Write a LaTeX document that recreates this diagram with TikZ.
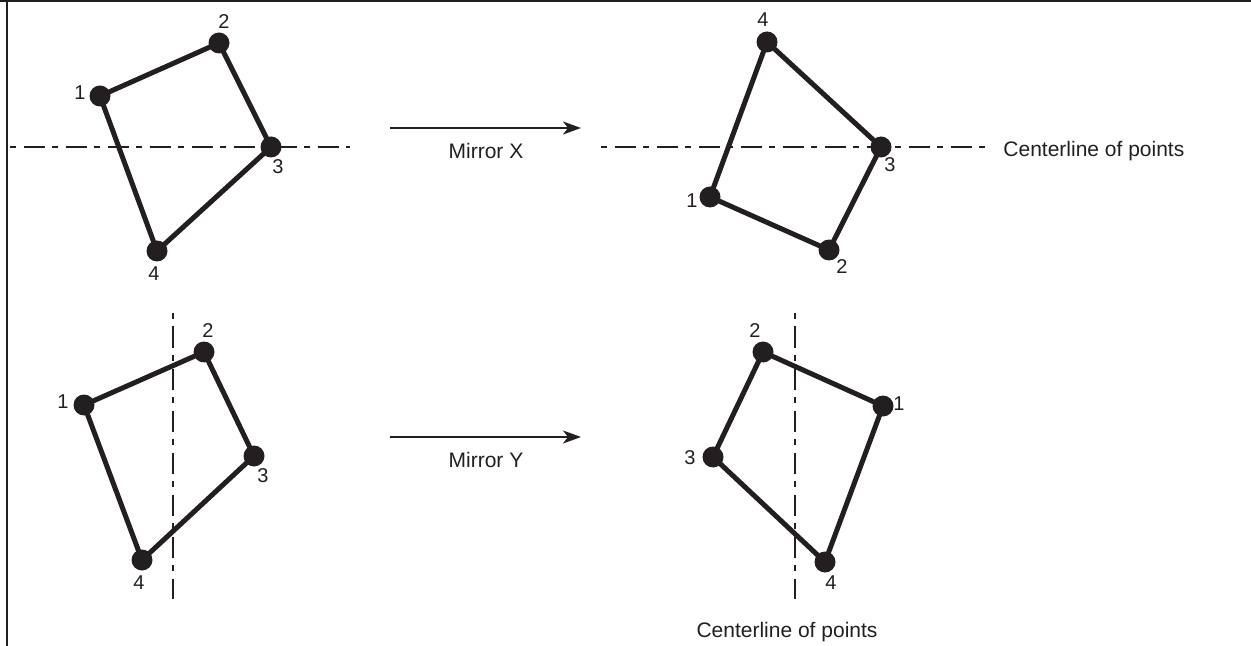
\documentclass[tikz,border=0pt]{standalone}
\usepackage{fontspec}
\setmainfont{Liberation Sans}
\usepackage{xcolor}
\definecolor{cInk}{HTML}{231F20}
\usetikzlibrary{arrows.meta}
\tikzset{
  node-pt/.style={circle,fill=cInk,inner sep=0pt,minimum size=10.5pt},
  node-num/.style={inner sep=0pt,text=cInk,font=\fontsize{10}{12}\selectfont},
  node-txt/.style={inner sep=0pt,anchor=base,text=cInk,font=\fontsize{10.5}{12}\selectfont},
  quad-edge/.style={draw=cInk,line width=2.5pt,line join=round},
  center-line/.style={draw=cInk,line width=0.9pt,
    dash pattern=on 3pt off 3.75pt on 10.5pt off 3.75pt},
  arrow/.style={-{Stealth[length=9pt,width=6.5pt,inset=2.5pt]},line width=1.1pt,draw=cInk},
  frame-line/.style={draw=cInk,line width=1pt},
}
\begin{document}
\begin{tikzpicture}[x=0.5pt,y=-0.5pt]
  \useasboundingbox (0,0) rectangle (1251,646);
  \draw[frame-line] (0,1.5) -- (1251,1.5);
  \draw[frame-line] (6.5,0) -- (6.5,646);

  % original, centerline in X
  \coordinate (cxa-l) at (10,147);
  \coordinate (cxa-r) at (350,147);
  \draw[center-line] (cxa-l) -- (cxa-r);
  \node[node-pt] (xa1) at (100,96) {};
  \node[node-pt] (xa2) at (219,43) {};
  \node[node-pt] (xa3) at (271,147) {};
  \node[node-pt] (xa4) at (157,251) {};
  \draw[quad-edge] (xa1.center) -- (xa2.center) -- (xa3.center) -- (xa4.center) -- cycle;
  \node[node-num] (xa1-n) at (80,93) {1};
  \node[node-num] (xa2-n) at (224,22) {2};
  \node[node-num] (xa3-n) at (278,167) {3};
  \node[node-num] (xa4-n) at (154,274) {4};

  \coordinate (mx-s) at (390,128);
  \coordinate (mx-e) at (581,128);
  \draw[arrow] (mx-s) -- (mx-e);
  \node[node-txt] (mx-lbl) at (486,159) {Mirror X};

  % mirrored in X
  \coordinate (cxb-l) at (601,147);
  \coordinate (cxb-r) at (990,147);
  \draw[center-line] (cxb-l) -- (cxb-r);
  \node[node-txt,anchor=base west] (cxb-lbl) at (1003,157) {Centerline of points};
  \node[node-pt] (xb1) at (710,197) {};
  \node[node-pt] (xb2) at (829,250) {};
  \node[node-pt] (xb3) at (881,147) {};
  \node[node-pt] (xb4) at (767,42) {};
  \draw[quad-edge] (xb1.center) -- (xb2.center) -- (xb3.center) -- (xb4.center) -- cycle;
  \node[node-num] (xb1-n) at (692,201) {1};
  \node[node-num] (xb2-n) at (842,267) {2};
  \node[node-num] (xb3-n) at (890,165) {3};
  \node[node-num] (xb4-n) at (763,20) {4};

  % original, centerline in Y
  \coordinate (cya-t) at (173,313);
  \coordinate (cya-b) at (173,599);
  \draw[center-line] (cya-t) -- (cya-b);
  \node[node-pt] (ya1) at (84,405) {};
  \node[node-pt] (ya2) at (204,352) {};
  \node[node-pt] (ya3) at (254,456) {};
  \node[node-pt] (ya4) at (142,560) {};
  \draw[quad-edge] (ya1.center) -- (ya2.center) -- (ya3.center) -- (ya4.center) -- cycle;
  \node[node-num] (ya1-n) at (63,402) {1};
  \node[node-num] (ya2-n) at (208,331) {2};
  \node[node-num] (ya3-n) at (263,476) {3};
  \node[node-num] (ya4-n) at (139,583) {4};

  \coordinate (my-s) at (390,437);
  \coordinate (my-e) at (581,437);
  \draw[arrow] (my-s) -- (my-e);
  \node[node-txt] (my-lbl) at (486,467) {Mirror Y};

  % mirrored in Y
  \coordinate (cyb-t) at (795,313);
  \coordinate (cyb-b) at (795,599);
  \draw[center-line] (cyb-t) -- (cyb-b);
  \node[node-txt] (cyb-lbl) at (787,637) {Centerline of points};
  \node[node-pt] (yb1) at (883,406) {};
  \node[node-pt] (yb2) at (763,352) {};
  \node[node-pt] (yb3) at (713,457) {};
  \node[node-pt] (yb4) at (825,562) {};
  \draw[quad-edge] (yb1.center) -- (yb2.center) -- (yb3.center) -- (yb4.center) -- cycle;
  \node[node-num] (yb1-n) at (899,404) {1};
  \node[node-num] (yb2-n) at (755,331) {2};
  \node[node-num] (yb3-n) at (690,458) {3};
  \node[node-num] (yb4-n) at (831,583) {4};
\end{tikzpicture}
\end{document}
